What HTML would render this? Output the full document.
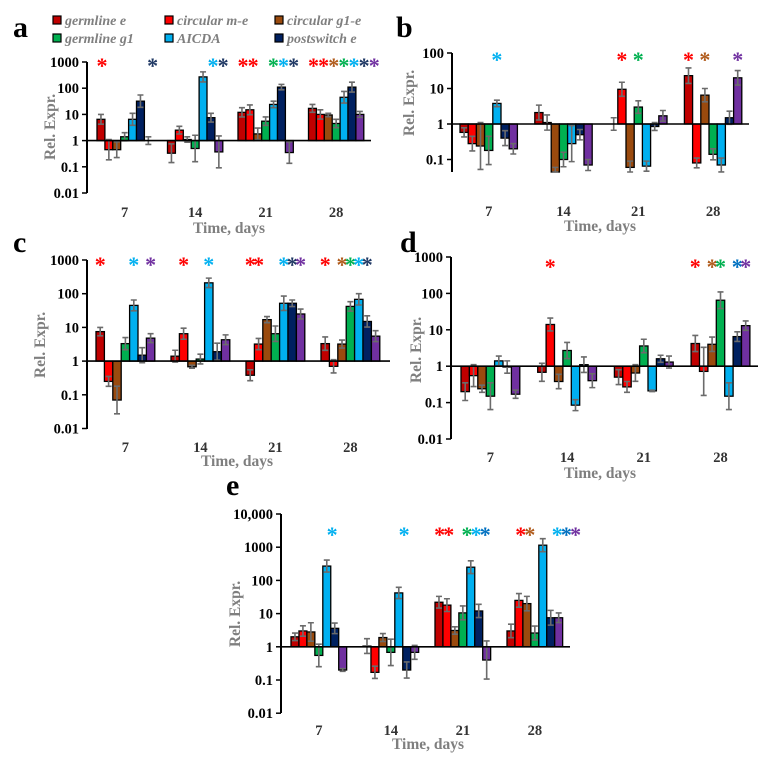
<!DOCTYPE html>
<html><head><meta charset="utf-8"><style>
body{margin:0;background:#fff}
svg{display:block;font-family:"Liberation Serif",serif}
</style></head><body>
<svg id="fig" width="771" height="765" viewBox="0 0 771 765"></svg>
<script>
const seriesNames=["germline e","circular m-e","circular g1-e","germline g1","AICDA","postswitch e","series 7"];
const seriesColors=["#c00000","#ff0000","#9a4a0e","#00b050","#00b0f0","#002060","#7030a0"];
const days=["7","14","21","28"];
// Panel values [day][series]
const valsA=[[6.5,0.45,0.45,1.4,6.5,32,1],[0.33,2.5,1.1,0.5,270,7.5,0.37],[12,15,1.8,5.5,24,110,0.35],[17,10,9.5,4.5,45,110,10]];
const hiA=[[10,1.1,0.9,2,11,55,1.4],[0.75,3.5,1.4,1.6,420,11,1.5],[18,23,3,8,32,140,0.9],[24,15,11,6.5,75,170,13]];
const valsB=[[0.58,0.28,0.24,0.18,3.8,0.4,0.2],[2.1,1.1,0.04,0.1,0.28,0.5,0.07],[1,9.5,0.06,3,0.065,0.85,1.7],[23,0.08,6.5,0.14,0.07,1.5,20]];
const hiB=[[0.78,0.45,1.1,0.45,4.7,0.65,0.28],[3.4,1.8,0.06,0.16,0.9,0.7,0.1],[1.5,15,0.09,4.5,0.09,1.1,2.4],[38,0.11,10,0.2,0.11,2.3,32]];
const valsC=[[7.5,0.25,0.07,3.3,45,1.5,4.8],[1.4,6.5,0.68,1.15,210,1.9,4.3],[0.38,3.2,17,6.5,52,52,25],[3.3,0.7,3.2,42,68,15,5.5]];
const hiC=[[10,0.35,0.18,5,65,2.5,6.5],[2.1,9.5,0.75,1.6,290,3.4,6],[0.55,4.7,21,11,85,65,35],[5.2,1.1,4.2,58,100,22,8]];
const valsD=[[0.2,0.55,0.24,0.15,1.4,0.95,0.17],[0.68,14,0.38,2.7,0.085,1.1,0.4],[0.5,0.27,0.65,3.6,0.21,1.6,1.3],[4.2,0.72,4,65,0.15,6.5,13]];
const hiD=[[0.35,1.1,0.3,0.35,1.9,1.4,0.22],[1.2,21,0.6,4.5,0.12,1.8,0.62],[0.8,0.38,1.1,5.5,0.22,2,1.9],[7,3.3,6.3,110,0.35,8.8,17.5]];
const valsE=[[2,3,2.8,0.55,270,3.6,0.2],[1.05,0.17,1.9,0.68,42,0.2,0.68],[22,18,3.1,10.5,250,12,0.4],[3,25,20,2.6,1150,7.5,7.5]];
const hiE=[[2.6,4.3,5.3,1.2,410,5.2,0.22],[1.75,0.26,2.5,1.7,62,0.35,1.1],[33,28,4,17,390,19,1.5],[4.8,40,33,4.2,1800,12.5,10.5]];
// stars: [day, bar, color]
const starsA=[[0,0,"#ff0000"],[0,5,"#1f3864"],[1,4,"#00b0f0"],[1,5,"#1f3864"],[2,0,"#ff0000"],[2,1,"#ff0000"],[2,3,"#00b050"],[2,4,"#00b0f0"],[2,5,"#1f3864"],[3,0,"#ff0000"],[3,1,"#ff0000"],[3,2,"#b05a1a"],[3,3,"#00b050"],[3,4,"#00b0f0"],[3,5,"#1f3864"],[3,6,"#7030a0"]];
const starsB=[[0,4,"#00b0f0"],[2,1,"#ff0000"],[2,3,"#00b050"],[3,0,"#ff0000"],[3,2,"#b05a1a"],[3,6,"#7030a0"]];
const starsC=[[0,0,"#ff0000"],[0,4,"#00b0f0"],[0,6,"#7030a0"],[1,1,"#ff0000"],[1,4,"#00b0f0"],[2,0,"#ff0000"],[2,1,"#ff0000"],[2,4,"#00b0f0"],[2,5,"#1f3864"],[2,6,"#7030a0"],[3,0,"#ff0000"],[3,2,"#b05a1a"],[3,3,"#00b050"],[3,4,"#00b0f0"],[3,5,"#1f3864"]];
const starsD=[[1,1,"#ff0000"],[3,0,"#ff0000"],[3,2,"#b05a1a"],[3,3,"#00b050"],[3,5,"#0070c0"],[3,6,"#7030a0"]];
const starsE=[[0,4,"#00b0f0"],[1,4,"#00b0f0"],[2,0,"#ff0000"],[2,1,"#ff0000"],[2,3,"#00b050"],[2,4,"#00b0f0"],[2,5,"#0070c0"],[3,1,"#ff0000"],[3,2,"#b05a1a"],[3,5,"#00b0f0"],[3,6,"#0070c0"],[3,7,"#7030a0"]];

const NS="http://www.w3.org/2000/svg";
const svg=document.getElementById("fig");
function mk(tag,attrs,parent,text){const e=document.createElementNS(NS,tag);for(const k in attrs)e.setAttribute(k,attrs[k]);if(text!==undefined)e.textContent=text;(parent||svg).appendChild(e);return e;}

function panel(id,letter,vals,hi,stars,g){
  const grp=mk("g",{});
  
  
  const y=v=>g.yTop+(g.topExp-Math.log10(v))*g.dec;
  const yBot=g.axisBottom;
  const cl=v=>Math.min(yBot,Math.max(g.yTop-4,v));
  const base=y(1);
  const L=mk("text",{x:g.lx,y:g.ly,"font-size":30,"font-weight":"bold"},grp,letter);
  
  
  vals.forEach((row,d)=>{
    const x0=g.gStart+d*g.sp;
    row.forEach((v,s)=>{
      const x=x0+s*g.bw;
      const yv=cl(y(v));
      if(Math.abs(v-1)>1e-6){
        const r=mk("rect",{x:x,y:Math.min(yv,base),width:g.bw,height:Math.abs(yv-base),fill:seriesColors[s],stroke:"#000","stroke-width":1.3},grp);
        
        
      }
      const h=hi[d][s];const lo=v*v/h;
      const cx=x+g.bw/2;const y1=cl(y(h)),y2=cl(y(lo));
      const eb=mk("path",{d:`M${cx},${y1}V${y2}M${cx-3},${y1}H${cx+3}M${cx-3},${y2}H${cx+3}`,stroke:"#6b6b6b","stroke-width":1.6,fill:"none"},grp);
      
      
    });
  });
  const ya=mk("line",{x1:g.ax,y1:g.yTop,x2:g.ax,y2:yBot,stroke:"#000","stroke-width":2},grp);
  
  
  const xa=mk("line",{x1:g.ax,y1:base,x2:g.xEnd,y2:base,stroke:"#000","stroke-width":1.6},grp);
  
  
  g.ticks.forEach(t=>{
    const ty=y(t.v);
    mk("line",{x1:g.ax-5,y1:ty,x2:g.ax,y2:ty,stroke:"#000","stroke-width":1.5},grp);
    const tl=mk("text",{x:g.ax-8,y:ty+5,"font-size":14.5,"font-weight":"bold","text-anchor":"end"},grp,t.l);
    
    
  });
  days.forEach((dl,d)=>{
    const t=mk("text",{x:g.gStart+d*g.sp+3.5*g.bw,y:g.tickY,"font-size":14.5,"font-weight":"bold","text-anchor":"middle",fill:"#333"},grp,dl);
    
    
  });
  const xt=mk("text",{x:g.tx,y:g.ty,"font-size":15.5,"font-weight":"bold","text-anchor":"middle",fill:"#7f7f7f"},grp,"Time, days");
  
  
  const yt=mk("text",{x:0,y:0,"font-size":15.5,"font-weight":"bold","text-anchor":"middle",fill:"#7f7f7f",transform:`translate(${g.ylx},${g.yly}) rotate(-90)`},grp,"Rel. Expr.");
  
  
  stars.forEach(st=>{
    const sx=g.gStart+st[0]*g.sp+(st[1]+0.5)*g.bw*g.ss;
    const s=mk("text",{x:sx,y:g.starY+10,"font-size":22,"font-weight":"bold","text-anchor":"middle",fill:st[2]},grp,"*");
    
    
  });
}
const T=(arr)=>arr.map(v=>({v:v,l:v>=10000?"10,000":String(v)}));
panel("a","a",valsA,hiA,starsA,{ax:87,yTop:62,topExp:3,dec:26.2,axisBottom:193,xEnd:371,gStart:97,sp:70.5,bw:7.9,ss:1.28,tickY:217,tx:229,ty:233,ylx:55,yly:127,lx:13,ly:37,starY:63,ticks:T([1000,100,10,1,0.1,0.01])});
panel("b","b",valsB,hiB,starsB,{ax:452,yTop:53,topExp:2,dec:35.5,axisBottom:172,xEnd:749,gStart:460,sp:74.8,bw:8.2,ss:1,tickY:216,tx:600,ty:231,ylx:414,yly:103,lx:396,ly:37,starY:57,ticks:T([100,10,1,0.1])});
panel("c","c",valsC,hiC,starsC,{ax:87,yTop:260,topExp:3,dec:33.7,axisBottom:429,xEnd:390,gStart:96,sp:75,bw:8.4,ss:1,tickY:452,tx:237,ty:466,ylx:45,yly:345,lx:13,ly:252,starY:262,ticks:T([1000,100,10,1,0.1,0.01])});
panel("d","d",valsD,hiD,starsD,{ax:451,yTop:257,topExp:3,dec:36.4,axisBottom:439,xEnd:758,gStart:461,sp:76.7,bw:8.4,ss:1,tickY:462,tx:600,ty:478,ylx:421,yly:350,lx:400,ly:252,starY:264,ticks:T([1000,100,10,1,0.1,0.01])});
panel("e","e",valsE,hiE,starsE,{ax:281,yTop:514,topExp:4,dec:33.2,axisBottom:713,xEnd:570,gStart:291,sp:72,bw:7.95,ss:1.15,tickY:735,tx:428,ty:749,ylx:240,yly:614,lx:226,ly:495,starY:532,ticks:T([10000,1000,100,10,1,0.1,0.01])});
const legX=[[57,169,279],[57,169,279]];
for(let i=0;i<6;i++){
  const r=Math.floor(i/3),c=i%3;const x=legX[r][c],yy=r?38:20;
  const g=mk("g",{});
  
  
  mk("rect",{x:x-4,y:yy-4,width:8,height:8,fill:seriesColors[i],stroke:"#000","stroke-width":1.2},g);
  mk("text",{x:x+8,y:yy+5,"font-size":14,"font-weight":"bold","font-style":"italic",fill:"#7f7f7f"},g,seriesNames[i]);
}
</script>
</body></html>
